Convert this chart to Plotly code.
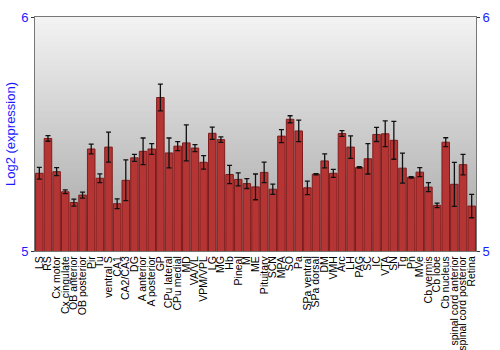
import plotly.graph_objects as go

regions = ["LS", "RS", "Cx motor", "Cx cingulate", "OB anterior", "OB posterior", "Pir", "Tu",
           "ventral S", "CA1", "CA2/CA3", "DG", "A anterior", "A posterior", "GP", "CPu lateral",
           "CPu medial", "MD", "VA/VL", "VPM/VPL", "LG", "MG", "Hb", "Pineal", "M", "ME",
           "Pituitary", "SCN", "MPA", "SO", "Pa", "SPa ventral", "SPa dorsal", "DM", "VMH", "Arc",
           "LH", "PAG", "SC", "IC", "VTA", "SN", "Tg", "Pn", "MVe", "Cb vermis", "Cb lobe",
           "Cb nucleus", "spinal cord anterior", "spinal cord posterior", "Retina"]

expression = [5.332, 5.481, 5.339, 5.253, 5.207, 5.239, 5.436, 5.311,
              5.444, 5.202, 5.302, 5.398, 5.426, 5.436, 5.656, 5.419,
              5.448, 5.462, 5.440, 5.379, 5.503, 5.476, 5.327, 5.306, 5.288, 5.274,
              5.336, 5.264, 5.491, 5.563, 5.513, 5.270, 5.328, 5.385, 5.332, 5.502,
              5.444, 5.357, 5.394, 5.498, 5.501, 5.473, 5.354, 5.315, 5.337, 5.273, 5.195,
              5.465, 5.285, 5.369, 5.192]

error = [0.025, 0.012, 0.017, 0.008, 0.015, 0.013, 0.021, 0.019,
         0.064, 0.021, 0.087, 0.015, 0.057, 0.023, 0.057, 0.064,
         0.019, 0.077, 0.015, 0.029, 0.026, 0.012, 0.039, 0.028, 0.021, 0.055,
         0.044, 0.022, 0.028, 0.015, 0.046, 0.029, 0.003, 0.030, 0.017, 0.012,
         0.048, 0.003, 0.065, 0.030, 0.055, 0.081, 0.064, 0.003, 0.019, 0.019, 0.010,
         0.019, 0.094, 0.044, 0.050]

y_range = [5, 6]
y_ticks = [5, 6]

fig = go.Figure()
fig.add_trace(go.Bar(
    x=regions, y=expression,
    base=0,
    marker=dict(color="#b53434", line=dict(color="#7e1c1c", width=1)),
    error_y=dict(type="data", array=error, visible=True, color="#111111",
                 thickness=1.3, width=2.5),
))
# anchor trace for the right-hand axis (draws nothing)
fig.add_trace(go.Scatter(x=regions, y=expression, yaxis="y2", mode="none",
                         showlegend=False, hoverinfo="skip"))

# gradient background for plot area (overlapping strips to avoid seams)
n = 120
def lerp(a, b, t):
    return int(round(a + (b - a) * t))
for i in range(n):
    t = i / (n - 1)
    g = lerp(243, 164, t)
    fig.add_shape(type="rect", xref="x domain", yref="y domain",
                  x0=0, x1=1, y0=max(0, 1 - (i + 2) / n), y1=1 - i / n,
                  fillcolor=f"rgb({g},{g},{g})", line=dict(width=0), layer="below")

fig.update_layout(
    width=500, height=350,
    margin=dict(l=27, r=14, t=10, b=99),
    paper_bgcolor="white", plot_bgcolor="white",
    showlegend=False,
    bargap=0.13,
    font=dict(family="Liberation Sans, Arial, sans-serif", size=11, color="black"),
    xaxis=dict(tickangle=-90, tickfont=dict(size=10.5, color="black"),
               tickmode="array", tickvals=regions, ticktext=regions,
               showgrid=False, ticks="", showline=True, linecolor="#777777", mirror=True,
               automargin=False),
    yaxis=dict(range=y_range, tickvals=y_ticks, showgrid=False,
               tickfont=dict(size=13, color="#1a1aff"),
               title=dict(text="Log2 (expression)", font=dict(size=13, color="#1a1aff"), standoff=2),
               ticks="outside", ticklen=3, tickcolor="#333333",
               showline=True, linecolor="#777777", zeroline=False),
    yaxis2=dict(range=y_range, tickvals=y_ticks, overlaying="y", side="right",
                showgrid=False, tickfont=dict(size=13, color="#1a1aff"),
                ticks="outside", ticklen=3, tickcolor="#333333",
                showline=True, linecolor="#777777", zeroline=False),
)

fig.write_html("out.html")
